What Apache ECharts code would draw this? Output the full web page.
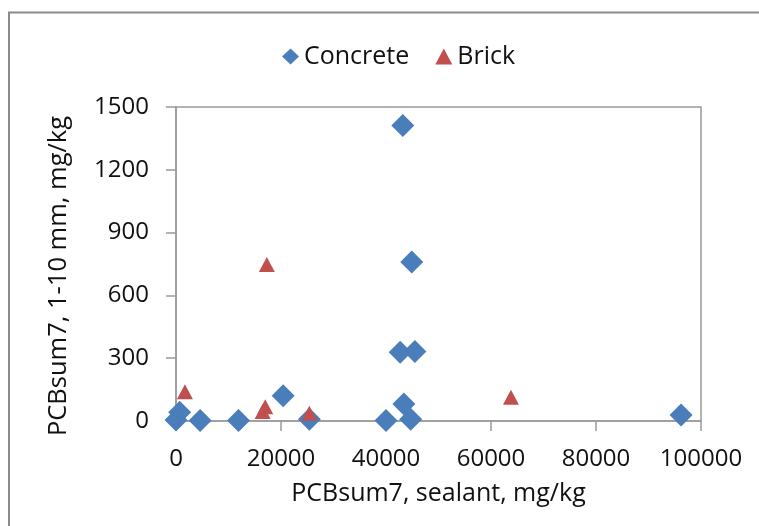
<!DOCTYPE html>
<html><head><meta charset="utf-8">
<script src="https://cdn.jsdelivr.net/npm/echarts@6/dist/echarts.min.js"></script>
<style>html,body{margin:0;padding:0;background:#fff}#c{width:759px;height:526px}</style>
</head><body><div id="c"></div>
<script>
const concreteX = [43200, 44900, 42700, 45500, 43400, 44700, 40000, 25400, 20400, 11900, 4600, 0, 700, 96200];
const concreteY = [1412, 760, 329, 332, 81, 8, 2, 8, 121, 2, 2, 5, 42, 29];
const brickX = [17300, 1700, 17000, 16500, 25400, 63800];
const brickY = [748, 140, 68, 45, 37, 113];
const xTicks = {min: 0, max: 100000, interval: 20000};
const yTicks = {min: 0, max: 1500, interval: 300};

const pair = (xs, ys) => xs.map((x, i) => [x, ys[i]]);
const font = 'Open Sans, Liberation Sans, sans-serif';
const chart = echarts.init(document.getElementById('c'));
chart.setOption({
  animation: false,
  graphic: [{type: 'rect', shape: {x: 9, y: 12.5, width: 760, height: 530}, style: {fill: 'none', stroke: '#8a8a8a', lineWidth: 2}, silent: true}],
  legend: {
    top: 39, left: 277, itemGap: 26, itemWidth: 17, itemHeight: 16,
    textStyle: {fontSize: 25, color: '#111', fontFamily: font},
    data: [{name: 'Concrete', icon: 'diamond'}, {name: 'Brick', icon: 'triangle'}]
  },
  grid: {left: 176, right: 58, top: 107, bottom: 105, show: true, borderColor: '#9a9a9a', borderWidth: 1.5},
  xAxis: {
    type: 'value', min: xTicks.min, max: xTicks.max, interval: xTicks.interval,
    name: 'PCBsum7, sealant, mg/kg', nameLocation: 'middle', nameGap: 60,
    nameTextStyle: {fontSize: 25, color: '#111', fontFamily: font},
    axisLine: {lineStyle: {color: '#9a9a9a', width: 1.5}},
    axisTick: {show: true, length: 10, lineStyle: {color: '#9a9a9a', width: 1.5}},
    axisLabel: {fontSize: 24, color: '#111', fontFamily: font, margin: 26, formatter: v => String(v)},
    splitLine: {show: false}
  },
  yAxis: {
    type: 'value', min: yTicks.min, max: yTicks.max, interval: yTicks.interval,
    name: 'PCBsum7, 1-10 mm, mg/kg', nameLocation: 'middle', nameGap: 104,
    nameTextStyle: {fontSize: 25.5, color: '#111', fontFamily: font, padding: [0, 24, 0, 0]},
    axisLine: {show: true, lineStyle: {color: '#9a9a9a', width: 1.5}},
    axisTick: {show: true, length: 10, lineStyle: {color: '#9a9a9a', width: 1.5}},
    axisLabel: {fontSize: 24, color: '#111', fontFamily: font, margin: 27, formatter: v => String(v)},
    splitLine: {show: false}
  },
  series: [
    {name: 'Concrete', type: 'scatter', symbol: 'diamond', symbolSize: 23,
     itemStyle: {color: '#4A7EBB', opacity: 1}, data: pair(concreteX, concreteY)},
    {name: 'Brick', type: 'scatter', symbol: 'triangle', symbolSize: [16, 15],
     itemStyle: {color: '#C0504D', opacity: 1}, data: pair(brickX, brickY)}
  ]
});
</script></body></html>
